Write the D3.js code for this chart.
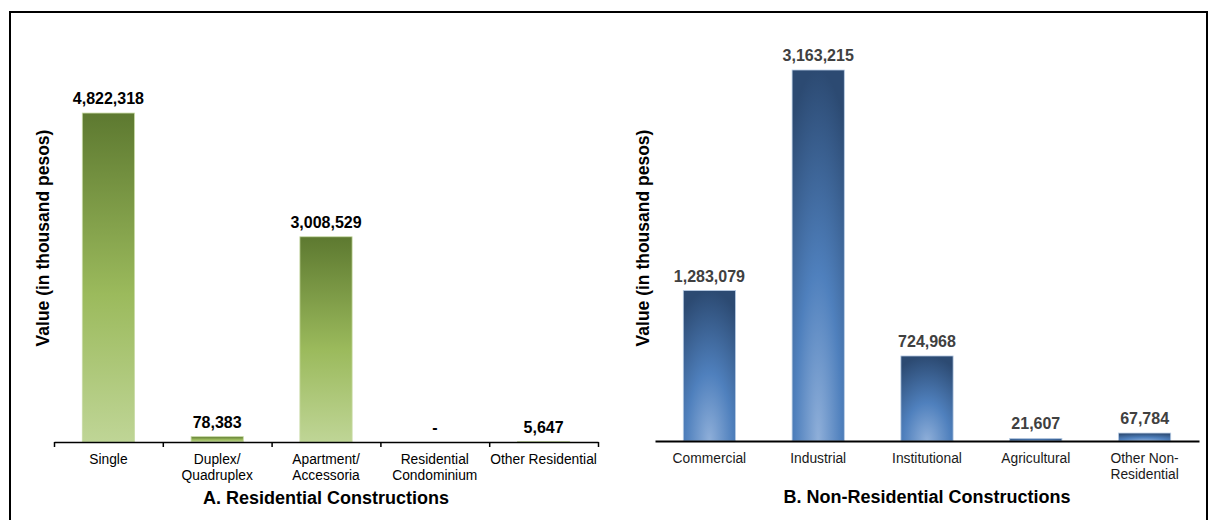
<!DOCTYPE html>
<html>
<head>
<meta charset="utf-8">
<script src="https://cdn.jsdelivr.net/npm/d3@7"></script>
<style>
  html, body { margin: 0; padding: 0; background: #fff; }
  svg { display: block; font-family: "Liberation Sans", Arial, sans-serif; }
</style>
</head>
<body>
<svg id="chart" width="1212" height="520"></svg>
<script>
// Residential constructions (value in thousand pesos)
const resCategories = [["Single"], ["Duplex/", "Quadruplex"], ["Apartment/", "Accessoria"], ["Residential", "Condominium"], ["Other Residential"]];
const resValues = [4822318, 78383, 3008529, 0, 5647];

// Non-residential constructions (value in thousand pesos)
const nonResCategories = [["Commercial"], ["Industrial"], ["Institutional"], ["Agricultural"], ["Other Non-", "Residential"]];
const nonResValues = [1283079, 3163215, 724968, 21607, 67784];

const panelTitles = ["A. Residential Constructions", "B. Non-Residential Constructions"];
const yAxisTitle = "Value (in thousand pesos)";

const svg = d3.select("#chart");
const fmt = d3.format(",");

// outer frame
svg.append("rect")
  .attr("x", 10).attr("y", 12)
  .attr("width", 1197).attr("height", 600)
  .attr("fill", "none").attr("stroke", "#000").attr("stroke-width", 2);

const defs = svg.append("defs");

const green = defs.append("linearGradient")
  .attr("id", "greenFill").attr("x1", 0).attr("y1", 0).attr("x2", 0).attr("y2", 1);
green.append("stop").attr("offset", 0).attr("stop-color", "#5d7930");
green.append("stop").attr("offset", 0.55).attr("stop-color", "#9bba5c");
green.append("stop").attr("offset", 1).attr("stop-color", "#bfd596");

const blue = defs.append("radialGradient")
  .attr("id", "blueFill").attr("cx", 0.5).attr("cy", 1).attr("r", 1)
  .attr("fx", 0.5).attr("fy", 1);
blue.append("stop").attr("offset", 0).attr("stop-color", "#8fafd9");
blue.append("stop").attr("offset", 0.45).attr("stop-color", "#4f80bd");
blue.append("stop").attr("offset", 1).attr("stop-color", "#2c4a72");

function drawPanel(cfg) {
  const g = svg.append("g");
  const idx = d3.range(cfg.values.length);

  const x = d3.scaleBand().domain(idx)
    .range([cfg.x0, cfg.x1]).paddingInner(0.52).paddingOuter(0.26);
  const y = d3.scaleLinear().domain([0, cfg.max]).range([cfg.base, cfg.top]);

  // bars
  g.selectAll("rect.bar").data(cfg.values).join("rect")
    .attr("class", "bar")
    .attr("x", (d, i) => x(i))
    .attr("width", x.bandwidth())
    .attr("y", d => y(d))
    .attr("height", d => cfg.base - y(d))
    .attr("fill", cfg.fill)
    .attr("stroke", d => d > 0 ? cfg.edge : "none")
    .attr("stroke-width", 0.8);

  // value labels
  g.selectAll("text.val").data(cfg.values).join("text")
    .attr("class", "val")
    .attr("x", (d, i) => x(i) + x.bandwidth() / 2)
    .attr("y", d => y(d) - 9)
    .attr("text-anchor", "middle")
    .attr("font-size", 16).attr("font-weight", "bold")
    .attr("fill", cfg.valColor)
    .text(d => d === 0 ? "-" : fmt(d));

  // category axis
  const pos = d3.scaleLinear().domain([0, cfg.values.length]).range([cfg.x0, cfg.x1]);
  const axis = g.append("g")
    .attr("transform", `translate(0,${cfg.base})`)
    .call(d3.axisBottom(pos)
      .tickValues(cfg.ticks ? d3.range(cfg.values.length + 1) : [])
      .tickSize(cfg.ticks ? 5 : 0).tickSizeOuter(0).tickFormat(""));
  axis.select(".domain").attr("stroke", "#000").attr("stroke-width", cfg.axisWidth);
  axis.selectAll(".tick line").attr("stroke", "#000").attr("stroke-width", 1.5);

  // category labels
  const lab = g.selectAll("text.cat").data(cfg.categories).join("text")
    .attr("class", "cat")
    .attr("text-anchor", "middle")
    .attr("font-size", 13.8)
    .attr("fill", cfg.catColor)
    .attr("x", (d, i) => x(i) + x.bandwidth() / 2)
    .attr("y", cfg.base + 22);
  lab.selectAll("tspan").data(d => d).join("tspan")
    .attr("x", function () { return d3.select(this.parentNode).attr("x"); })
    .attr("dy", (d, j) => j === 0 ? 0 : 16)
    .text(d => d);

  // panel title
  g.append("text")
    .attr("x", (cfg.x0 + cfg.x1) / 2)
    .attr("y", cfg.base + 62)
    .attr("text-anchor", "middle")
    .attr("font-size", 18).attr("font-weight", "bold")
    .attr("fill", "#000")
    .text(cfg.title);

  // value axis title
  g.append("text")
    .attr("transform", `translate(${cfg.titleX},238) rotate(-90)`)
    .attr("text-anchor", "middle")
    .attr("dominant-baseline", "central")
    .attr("font-size", 17.5).attr("font-weight", "bold")
    .attr("fill", "#000")
    .text(yAxisTitle);
}

drawPanel({
  categories: resCategories, values: resValues,
  x0: 54, x1: 598, base: 442, top: 32.7, max: 6000000,
  fill: "url(#greenFill)", edge: "#c9dba6",
  valColor: "#000", catColor: "#000", ticks: true, axisWidth: 1.5,
  title: panelTitles[0], titleX: 43
});

drawPanel({
  categories: nonResCategories, values: nonResValues,
  x0: 655, x1: 1199, base: 441, top: 30.5, max: 3500000,
  fill: "url(#blueFill)", edge: "#b9cde5",
  valColor: "#404040", catColor: "#1a1a1a", ticks: false, axisWidth: 2,
  title: panelTitles[1], titleX: 643
});
</script>
</body>
</html>
